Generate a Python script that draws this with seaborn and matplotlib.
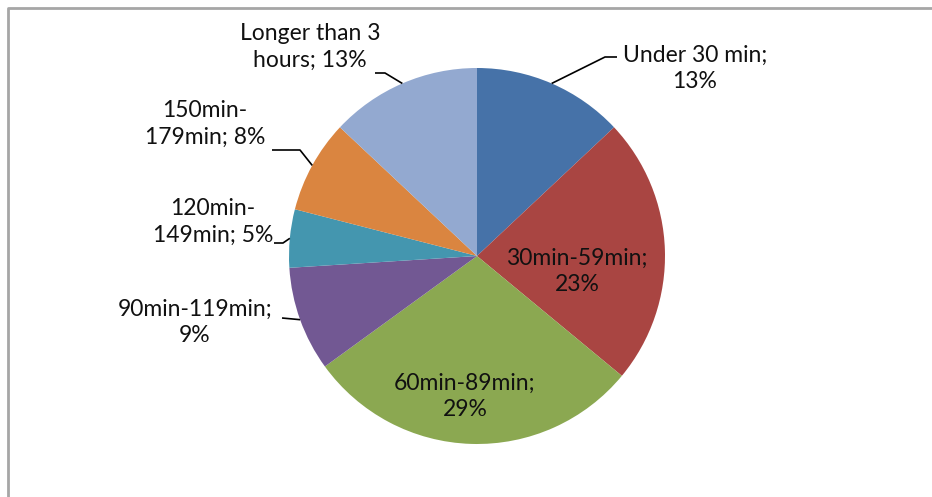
import numpy as np
import seaborn as sns
import matplotlib.pyplot as plt

sns.set_theme(style="white")
plt.rcParams['font.family'] = ['Lato', 'DejaVu Sans']

categories = ['Under 30 min', '30min-59min', '60min-89min', '90min-119min',
              '120min-149min', '150min-179min', 'Longer than 3 hours']
shares = [13, 23, 29, 9, 5, 8, 13]
colors = ['#4672A8', '#A94542', '#8BA851', '#725893', '#4496AF', '#DA8540', '#93A9D0']

W, H = 932, 497
fig = plt.figure(figsize=(W / 100, H / 100), dpi=100)
ax = fig.add_axes([0, 0, 1, 1])

# pie in pixel units (y measured from bottom)
cx, cy, r = 477, H - 256, 188
wedges, _ = ax.pie(shares, colors=colors, startangle=90, counterclock=False,
                   center=(cx, cy), radius=r, frame=True,
                   wedgeprops=dict(linewidth=0))
ax.set_xlim(0, W)
ax.set_ylim(0, H)
ax.axis('off')

# label text: (text, text x, text y, elbow start, elbow end) in pixels from top-left
outside = {
    0: ('Under 30 min;\n13%', 695, 68, (617, 57), (605, 57)),
    3: ('90min-119min;\n9%', 195, 322, (282, 318), (282, 318)),
    4: ('120min-\n149min; 5%', 213, 222, (274, 243), (283, 243)),
    5: ('150min-\n179min; 8%', 205, 124, (272, 150), (300, 150)),
    6: ('Longer than 3\nhours; 13%', 310, 47, (375, 73), (385, 73)),
}
inside = {
    1: (577, 271),
    2: (465, 396),
}

fs = 16.5
for i, w in enumerate(wedges):
    if i in inside:
        tx, ty = inside[i]
        txt = categories[i] + ';\n' + f'{shares[i]}%'
        ax.text(tx, H - ty, txt, ha='center', va='center', fontsize=fs,
                color='#111111', linespacing=1.3)
    else:
        txt, tx, ty, p0, p1 = outside[i]
        ax.text(tx, H - ty, txt, ha='center', va='center', fontsize=fs,
                color='#111111', linespacing=1.3)
        ang = np.deg2rad((w.theta1 + w.theta2) / 2)
        ex, ey = cx + r * np.cos(ang), cy + r * np.sin(ang)
        ax.plot([p0[0], p1[0], ex], [H - p0[1], H - p1[1], ey],
                color='black', lw=1.2, solid_capstyle='butt')

# chart frame
ax.plot([8, 8, W + 5], [-5, H - 8, H - 8], color='#A6A6A6', lw=2)

fig.savefig('out.png', dpi=100)
